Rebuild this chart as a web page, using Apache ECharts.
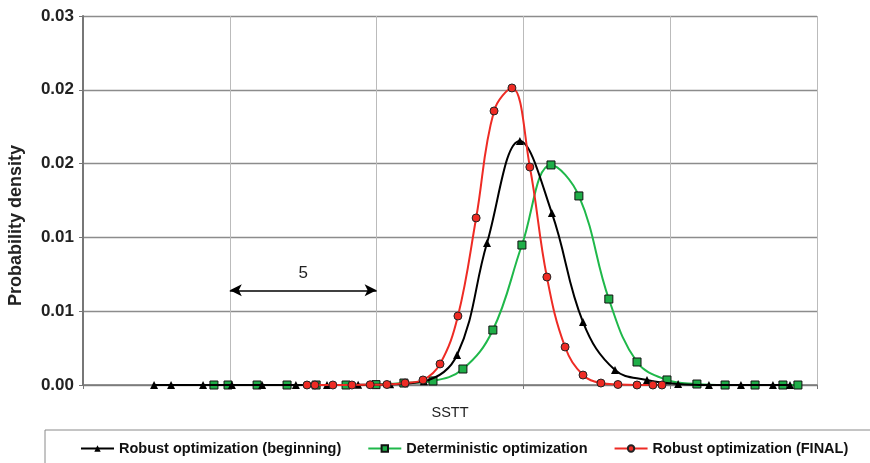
<!DOCTYPE html>
<html>
<head>
<meta charset="utf-8">
<script src="https://cdn.jsdelivr.net/npm/echarts@6/dist/echarts.min.js"></script>
<style>
  html, body { margin: 0; padding: 0; background: #fff; }
  #main { width: 870px; height: 463px; }
</style>
</head>
<body>
<div id="main"></div>
<script>
// tick labels as printed on the original (ticks every 0.006, rounded to 2 decimals)
var yLabels = ['0.00', '0.01', '0.01', '0.02', '0.02', '0.03'];

// Robust optimization (beginning)
var beginX = [2.42, 3.00, 4.09, 5.07, 6.10, 7.25, 8.31, 9.37, 10.46, 11.61, 12.74, 13.76, 14.88, 15.97, 17.03, 18.12, 19.21, 20.27, 21.32, 22.41, 23.50, 24.08];
var beginY = [0, 0, 0, 0, 0, 0, 0, 0.00002, 0.00006, 0.0003, 0.00244, 0.01154, 0.01984, 0.01398, 0.00512, 0.00122, 0.00041, 0.00008, 0, 0, 0, 0];

// Deterministic optimization
var detX = [4.46, 4.94, 5.93, 6.95, 7.94, 8.96, 9.98, 10.93, 11.92, 12.94, 13.96, 14.95, 15.94, 16.89, 17.91, 18.87, 19.89, 20.91, 21.87, 22.89, 23.84, 24.35];
var detY = [0, 0, 0, 0, 0, 0, 0.00003, 0.00016, 0.00033, 0.0013, 0.00447, 0.01138, 0.01789, 0.01537, 0.00699, 0.00187, 0.00041, 0.00008, 0, 0, 0, 0];

// Robust optimization (FINAL)
var finalX = [7.63, 7.90, 8.51, 9.16, 9.78, 10.35, 10.97, 11.58, 12.16, 12.77, 13.39, 14.00, 14.61, 15.22, 15.80, 16.42, 17.03, 17.64, 18.22, 18.87, 19.41, 19.72];
var finalY = [0, 0, 0, 0, 0.00002, 0.00004, 0.00016, 0.00041, 0.00171, 0.00561, 0.01358, 0.02228, 0.02415, 0.01772, 0.00878, 0.00309, 0.00081, 0.00016, 0.00004, 0, 0, 0];

// the "5" span arrow
var spanFrom = [5, 0.0077];
var spanTo = [10, 0.0077];

function zip(xs, ys) {
    return xs.map(function (x, i) { return [x, ys[i]]; });
}

var option = {
    animation: false,
    grid: { left: 83, right: 53, top: 16, bottom: 78, containLabel: false, outerBoundsMode: 'none' },
    legend: {
        left: 45,
        top: 430,
        width: 850,
        padding: [11, 40, 20, 35],
        borderColor: '#8a8a8a',
        borderWidth: 1,
        itemGap: 26,
        itemWidth: 33,
        itemHeight: 8,
        textStyle: { fontFamily: 'Liberation Sans', fontWeight: 'bold', fontSize: 14.5, color: '#111' },
        data: ['Robust optimization (beginning)', 'Deterministic optimization', 'Robust optimization (FINAL)']
    },
    xAxis: {
        type: 'value',
        min: 0,
        max: 25,
        interval: 5,
        name: 'SSTT',
        nameLocation: 'middle',
        nameGap: 20,
        nameTextStyle: { fontFamily: 'Liberation Sans', fontSize: 14.5, color: '#222' },
        axisLine: { lineStyle: { color: '#777', width: 1.5 } },
        axisTick: { show: true, length: 4, lineStyle: { color: '#777' } },
        axisLabel: { show: false },
        splitLine: { show: true, lineStyle: { color: '#bbb', width: 1 } }
    },
    yAxis: {
        type: 'value',
        min: 0,
        max: 0.03,
        interval: 0.006,
        name: 'Probability density',
        nameLocation: 'middle',
        nameGap: 58,
        nameTextStyle: { fontFamily: 'Liberation Sans', fontWeight: 'bold', fontSize: 18, color: '#222', padding: [0, 50, 0, 0] },
        axisLine: { show: true, lineStyle: { color: '#777', width: 2 } },
        axisTick: { show: true, length: 4, lineStyle: { color: '#777' } },
        axisLabel: {
            fontFamily: 'Liberation Sans',
            fontWeight: 'bold',
            fontSize: 17,
            color: '#222',
            margin: 9,
            formatter: function (v) { return yLabels[Math.round(v / 0.006)]; }
        },
        splitLine: { show: true, lineStyle: { color: '#8c8c8c', width: 1.3 } }
    },
    series: [
        {
            name: 'Robust optimization (beginning)',
            type: 'line',
            smooth: 0.4,
            symbol: 'triangle',
            symbolSize: 8,
            z: 3,
            itemStyle: { color: '#000' },
            lineStyle: { color: '#000', width: 2 },
            data: zip(beginX, beginY),
            markLine: {
                silent: true,
                symbol: ['arrow', 'arrow'],
                symbolSize: [9, 12],
                lineStyle: { color: '#000', width: 1.5, type: 'solid' },
                label: { show: true, position: 'middle', formatter: '5', fontFamily: 'Liberation Sans', fontSize: 17, color: '#222', distance: 8 },
                data: [[{ coord: spanFrom }, { coord: spanTo }]]
            }
        },
        {
            name: 'Deterministic optimization',
            type: 'line',
            smooth: 0.4,
            symbol: 'rect',
            symbolSize: 8,
            z: 2,
            itemStyle: { color: '#1fae48', borderColor: '#111', borderWidth: 1 },
            lineStyle: { color: '#1fb84a', width: 2 },
            data: zip(detX, detY)
        },
        {
            name: 'Robust optimization (FINAL)',
            type: 'line',
            smooth: 0.4,
            symbol: 'circle',
            symbolSize: 8,
            z: 4,
            itemStyle: { color: '#ee2b24', borderColor: '#222', borderWidth: 1 },
            lineStyle: { color: '#ee2b24', width: 2 },
            data: zip(finalX, finalY)
        }
    ]
};

var myChart = echarts.init(document.getElementById('main'));
myChart.setOption(option);
</script>
</body>
</html>
